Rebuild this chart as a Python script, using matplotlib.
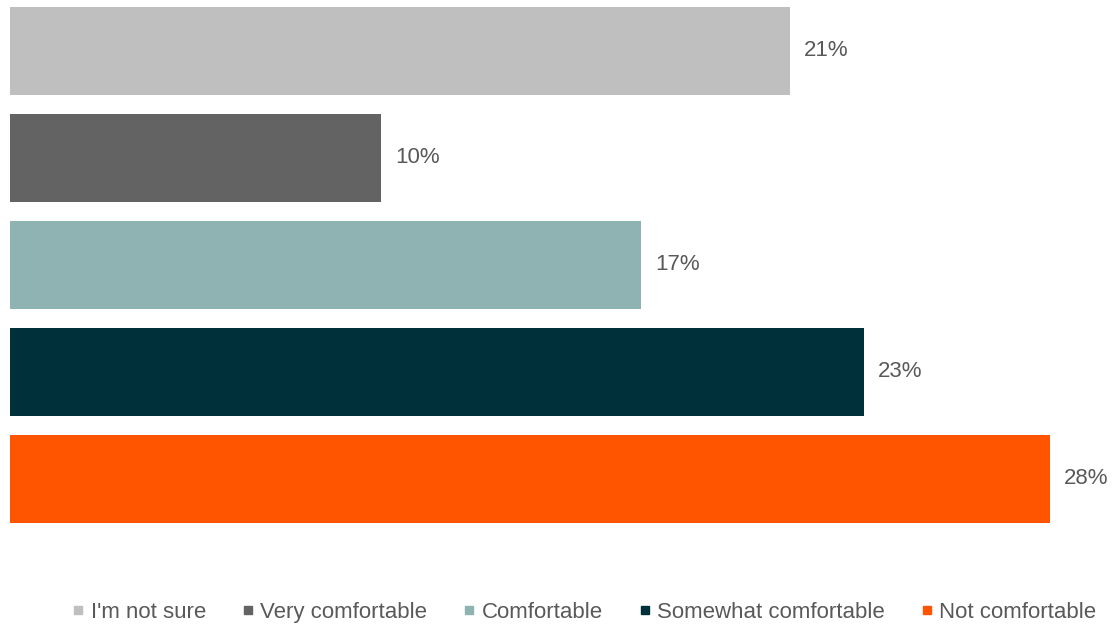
import matplotlib.pyplot as plt
from matplotlib.lines import Line2D

plt.rcParams['font.family'] = ['Liberation Sans', 'DejaVu Sans']

categories = ["I'm not sure", "Very comfortable", "Comfortable",
              "Somewhat comfortable", "Not comfortable"]
values = [21, 10, 17, 23, 28]
colors = ['#BFBFBF', '#636363', '#8FB3B2', '#00303A', '#FF5500']
text_color = '#595959'

fig = plt.figure(figsize=(11.2, 6.25), dpi=100)
ax = fig.add_axes([10 / 1120, 95 / 625, 1040 / 1120, 530 / 625])

pos = list(range(len(categories)))
ax.barh(pos, values, height=0.83, color=colors)
for p, v in zip(pos, values):
    ax.annotate(f'{v}%', (v, p), xytext=(10, 0), textcoords='offset points',
                va='center', ha='left', fontsize=16, color=text_color,
                annotation_clip=False)

ax.set_xlim(0, max(values))
ax.set_ylim(4.477, -0.4766)
ax.axis('off')

handles = [Line2D([], [], marker='s', linestyle='none', markersize=5.5,
                  markerfacecolor=c, markeredgecolor=c) for c in colors]
fig.legend(handles, categories, loc='center', ncol=5,
           bbox_to_anchor=(0.522, 0.02), frameon=False, fontsize=16,
           labelcolor=text_color, handlelength=0.5, handletextpad=0.3,
           columnspacing=1.65, borderpad=0)

fig.savefig('out.png', dpi=100)
